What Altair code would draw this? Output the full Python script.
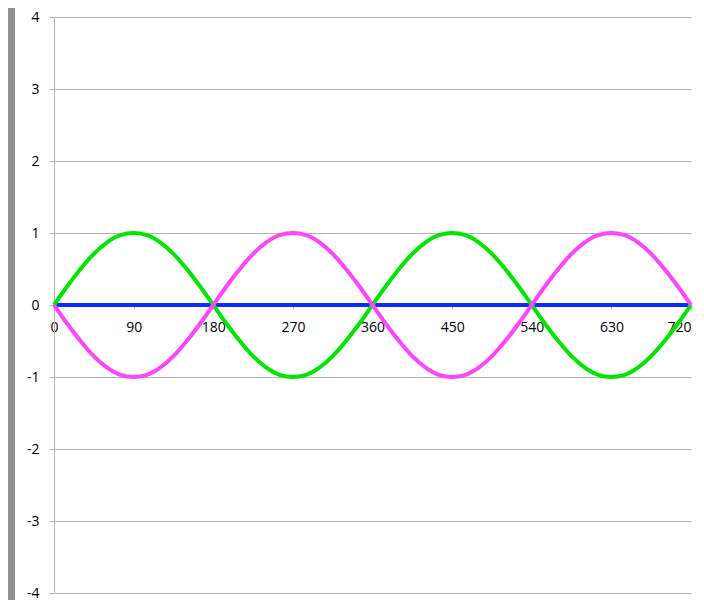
import altair as alt
import pandas as pd

# angles in degrees (every 15 degrees)
angles = [0, 15, 30, 45, 60, 75, 90, 105, 120, 135, 150, 165,
          180, 195, 210, 225, 240, 255, 270, 285, 300, 315, 330, 345,
          360, 375, 390, 405, 420, 435, 450, 465, 480, 495, 510, 525,
          540, 555, 570, 585, 600, 615, 630, 645, 660, 675, 690, 705, 720]

green_vals = [0, 0.26, 0.5, 0.71, 0.87, 0.97, 1, 0.97, 0.87, 0.71, 0.5, 0.26,
              0, -0.26, -0.5, -0.71, -0.87, -0.97, -1, -0.97, -0.87, -0.71, -0.5, -0.26,
              0, 0.26, 0.5, 0.71, 0.87, 0.97, 1, 0.97, 0.87, 0.71, 0.5, 0.26,
              0, -0.26, -0.5, -0.71, -0.87, -0.97, -1, -0.97, -0.87, -0.71, -0.5, -0.26, 0]

magenta_vals = [0, -0.26, -0.5, -0.71, -0.87, -0.97, -1, -0.97, -0.87, -0.71, -0.5, -0.26,
                0, 0.26, 0.5, 0.71, 0.87, 0.97, 1, 0.97, 0.87, 0.71, 0.5, 0.26,
                0, -0.26, -0.5, -0.71, -0.87, -0.97, -1, -0.97, -0.87, -0.71, -0.5, -0.26,
                0, 0.26, 0.5, 0.71, 0.87, 0.97, 1, 0.97, 0.87, 0.71, 0.5, 0.26, 0]

blue_vals = [0] * len(angles)

x_ticks = [0, 90, 180, 270, 360, 450, 540, 630, 720]
y_ticks = [-4, -3, -2, -1, 0, 1, 2, 3, 4]

series_names = ["blue", "green", "magenta"]
series_colors = ["#0a2cff", "#00e600", "#ff44ff"]

rows = []
for name, vals in zip(series_names, [blue_vals, green_vals, magenta_vals]):
    for a, v in zip(angles, vals):
        rows.append({"angle": a, "value": v, "series": name})
df = pd.DataFrame(rows)

W, H = 637, 576
FONT = "Open Sans"

x_scale = alt.Scale(domain=[0, 720], nice=False, zero=False)
y_scale = alt.Scale(domain=[-4, 4], nice=False)

lines = alt.Chart(df).mark_line(strokeWidth=4, interpolate="monotone").encode(
    x=alt.X("angle:Q", scale=x_scale,
            axis=alt.Axis(values=x_ticks, title=None, grid=False, domain=False,
                          offset=-H / 2, tickSize=4, tickColor="#c8c8c8",
                          labelPadding=11, labelFont=FONT, labelFontSize=14,
                          labelColor="#000000", labelFlush=False,
                          labelAlign=alt.ExprRef(expr="datum.value == 720 ? 'right' : 'center'"),
                          labelExpr="toString(datum.value)")),
    y=alt.Y("value:Q", scale=y_scale,
            axis=alt.Axis(values=y_ticks, title=None, grid=True, gridColor="#b4b4b4",
                          gridWidth=1, domainColor="#b4b4b4", tickColor="#b4b4b4",
                          tickSize=5, labelPadding=10, labelFont=FONT,
                          labelFontSize=14, labelColor="#000000",
                          labelExpr="toString(datum.value)")),
    color=alt.Color("series:N", scale=alt.Scale(domain=series_names, range=series_colors),
                    legend=None),
    order=alt.Order("angle:Q"),
)

frame = alt.Chart(pd.DataFrame({"k": [0]})).mark_rect(color="#8f8f8f").encode(
    x=alt.value(-46), x2=alt.value(-39), y=alt.value(-12), y2=alt.value(H + 20)
)

chart = alt.layer(frame, lines).properties(
    width=W, height=H,
    autosize=alt.AutoSizeParams(type="none"),
    padding={"left": 46, "top": 9, "right": 5, "bottom": 7},
).configure(background="white").configure_view(stroke=None)

chart.save("out.html", embed_options={"renderer": "svg", "actions": False})
